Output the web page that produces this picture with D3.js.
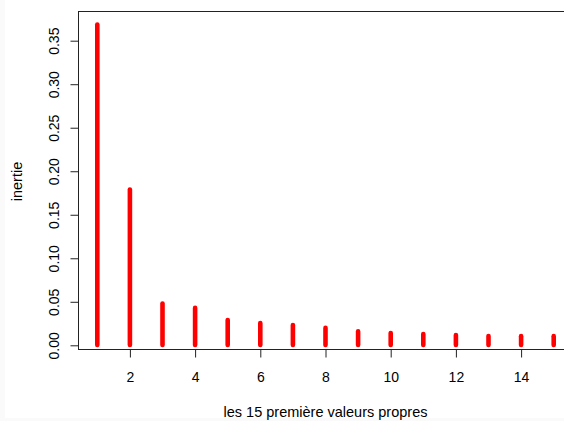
<!DOCTYPE html>
<html>
<head>
<meta charset="utf-8">
<script src="https://cdn.jsdelivr.net/npm/d3@7"></script>
<style>
  html, body { margin: 0; padding: 0; background: #fafafa; }
  svg { display: block; }
  text { font-family: "Liberation Sans", Arial, sans-serif; fill: #000; }
</style>
</head>
<body>
<svg id="chart" width="564" height="421"></svg>
<script>
// Eigenvalue index and inertia of the first 15 eigenvalues
const ranks = [1, 2, 3, 4, 5, 6, 7, 8, 9, 10, 11, 12, 13, 14, 15];
const inertie = [0.3685, 0.179, 0.048, 0.043, 0.029, 0.0256, 0.0233, 0.020, 0.016, 0.014, 0.013, 0.0118, 0.0107, 0.0105, 0.0105];
const xTicks = [2, 4, 6, 8, 10, 12, 14];
const yTicks = [0, 0.05, 0.10, 0.15, 0.20, 0.25, 0.30, 0.35];
const xTitle = "les 15 première valeurs propres";
const yTitle = "inertie";

const fontFamily = "'Liberation Sans', Arial, sans-serif";
const ink = "#222";

const svg = d3.select("#chart");

// white plotting page with a faint grey margin on the left and bottom
svg.append("rect").attr("x", 5).attr("y", 0).attr("width", 559).attr("height", 418).attr("fill", "#fff");

const box = { left: 78, top: 11, right: 572, bottom: 349 };

const x = d3.scaleLinear().domain([1, 15]).range([97.3, 553.7]);
const y = d3.scaleLinear().domain([0, 0.35]).range([345.3, 40.7]);

// vertical bars (type = "h")
svg.append("g")
  .selectAll("line")
  .data(ranks)
  .join("line")
  .attr("x1", d => x(d))
  .attr("x2", d => x(d))
  .attr("y1", y(0) - 0.3)
  .attr("y2", (d, i) => y(inertie[i]))
  .attr("stroke", "#ff0000")
  .attr("stroke-width", 4.6)
  .attr("stroke-linecap", "round");

// frame around the plot region
svg.append("rect")
  .attr("x", box.left + 0.5)
  .attr("y", box.top + 0.5)
  .attr("width", box.right - box.left)
  .attr("height", box.bottom - box.top)
  .attr("fill", "none")
  .attr("stroke", ink)
  .attr("stroke-width", 1);

// x axis
const xAxis = d3.axisBottom(x).tickValues(xTicks).tickSize(8).tickPadding(15).tickFormat(d3.format("d"));
const gx = svg.append("g").attr("transform", `translate(0,${box.bottom + 0.5})`).call(xAxis);
gx.select(".domain").remove();
gx.selectAll(".tick line").attr("stroke", ink);
gx.selectAll(".tick text").attr("font-size", 14).style("font-family", fontFamily).attr("fill", ink);

// y axis with rotated labels
const yAxis = d3.axisLeft(y).tickValues(yTicks).tickSize(8).tickFormat(d3.format(".2f"));
const gy = svg.append("g").attr("transform", `translate(${box.left + 0.5},0)`).call(yAxis);
gy.select(".domain").remove();
gy.selectAll(".tick line").attr("stroke", ink);
gy.selectAll(".tick text")
  .attr("x", null).attr("dy", null)
  .attr("text-anchor", "middle")
  .attr("transform", "translate(-20,0) rotate(-90)")
  .attr("font-size", 14)
  .style("font-family", fontFamily)
  .attr("fill", ink);

// axis titles
svg.append("text")
  .attr("x", 325.5)
  .attr("y", 416.5)
  .attr("text-anchor", "middle")
  .attr("font-size", 14.5)
  .attr("fill", ink)
  .text(xTitle);

svg.append("text")
  .attr("transform", "translate(22,181.5) rotate(-90)")
  .attr("text-anchor", "middle")
  .attr("font-size", 14.5)
  .attr("fill", ink)
  .text(yTitle);
</script>
</body>
</html>
